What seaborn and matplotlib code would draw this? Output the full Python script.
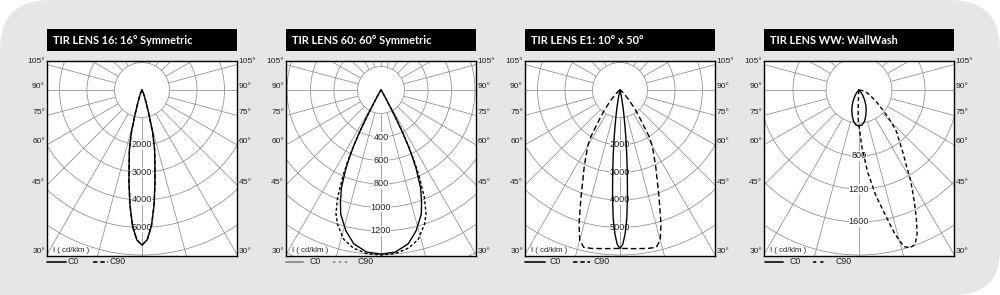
import numpy as np
import pandas as pd
import matplotlib
matplotlib.use("Agg")
import matplotlib.pyplot as plt
import seaborn as sns
from matplotlib.patches import Circle, Rectangle, PathPatch
from matplotlib.path import Path

sns.set_theme(style="white")
plt.rcParams['font.family'] = ['Liberation Sans', 'DejaVu Sans']

# ---------------- data (cd/klm vs gamma angle in degrees) ----------------
titles = ["TIR LENS 16: 16\u00b0 Symmetric", "TIR LENS 60: 60\u00b0 Symmetric",
          "TIR LENS E1: 10\u00b0 x 50\u00b0", "TIR LENS WW: WallWash"]
ring_steps = [1000, 200, 1000, 400]
ring_labels = [[2000, 3000, 4000, 5000], [400, 600, 800, 1000, 1200],
               [2000, 3000, 4000, 5000], [800, 1200, 1600]]
angle_labels = [105, 90, 75, 60, 45, 30]
legend_labels = ["C0", "C90"]
unit_label = "I ( cd/klm )"

p1_gamma = [0, 2, 4, 6, 8, 10, 12, 14, 16, 18, 20, 25, 30, 40, 60, 90]
p1_c0 = [5640, 5450, 4950, 4200, 3400, 2700, 2200, 1600, 900, 500, 300, 100, 30, 10, 0, 0]
p1_c90 = [5640, 5450, 4950, 4200, 3400, 2700, 2200, 1600, 900, 500, 300, 100, 30, 10, 0, 0]

p2_gamma = [0, 5, 10, 14, 18, 20, 22, 24, 25, 26, 27, 28, 29, 30, 35, 45, 90]
p2_c0 = [1396, 1385, 1330, 1235, 1110, 1010, 900, 740, 640, 530, 400, 240, 120, 60, 15, 0, 0]
p2_c90 = [1404, 1398, 1365, 1310, 1200, 1120, 985, 790, 670, 540, 400, 240, 120, 60, 15, 0, 0]

p3_gamma_c0 = [0, 1, 2, 3, 4, 5, 6, 7, 8, 9, 10, 12, 15, 20, 30, 90]
p3_c0 = [5760, 5620, 5250, 4700, 3900, 3050, 2350, 1750, 1250, 880, 600, 250, 80, 20, 5, 0]
p3_gamma_c90 = [0, 5, 10, 13, 15, 17, 20, 25, 30, 32, 35, 38, 42, 50, 60, 90]
p3_c90 = [5760, 5790, 5850, 5870, 5650, 5100, 4150, 3076, 2350, 2000, 1300, 900, 490, 150, 50, 0]

p4_gamma_c0 = [0, 5, 10, 15, 20, 25, 30, 35, 40, 50, 60, 90]
p4_c0 = [436, 425, 385, 320, 255, 190, 130, 80, 45, 15, 5, 0]
p4_gamma_c90 = [0, 3, 6, 9, 12, 14, 16, 18, 20, 22, 24, 26, 28, 30, 32, 35, 38, 42, 45,
                50, 55, 60, 70, 80, 90]
p4_c90 = [436, 700, 1000, 1290, 1560, 1800, 1975, 2010, 1990, 1880, 1710, 1540, 1380,
          1240, 1085, 930, 800, 680, 560, 380, 270, 190, 110, 60, 0]
p4_gamma_c270 = [0, 1, 2, 3, 4, 6, 10, 90]
p4_c270 = [436, 400, 300, 180, 90, 30, 5, 0]

# (right-side gamma, right values, left-side gamma, left values) for each curve
panels = [
    dict(c0=(p1_gamma, p1_c0, p1_gamma, p1_c0), c90=(p1_gamma, p1_c90, p1_gamma, p1_c90)),
    dict(c0=(p2_gamma, p2_c0, p2_gamma, p2_c0), c90=(p2_gamma, p2_c90, p2_gamma, p2_c90)),
    dict(c0=(p3_gamma_c0, p3_c0, p3_gamma_c0, p3_c0),
         c90=(p3_gamma_c90, p3_c90, p3_gamma_c90, p3_c90)),
    dict(c0=(p4_gamma_c0, p4_c0, p4_gamma_c0, p4_c0),
         c90=(p4_gamma_c90, p4_c90, p4_gamma_c270, p4_c270)),
]

# ---------------- layout (pixels) ----------------
W, H = 1000, 295
lefts = [47, 286, 525, 764]
fw, ftop, fbot = 190, 61, 256
cy = 90
ring_px = [27.5, 23.5, 27.5, 33.0]
curve_dash = [(0, (3, 2)), (0, (2.2, 1.6)), (0, (4, 2.2)), (0, (3, 2))]
leg_specs = [
    dict(c=('k', '-'), d=('k', (0, (2.5, 1.5))), x=(47, 66, 67, 93, 108, 110)),
    dict(c=('#8a8a8a', '-'), d=('#8a8a8a', (0, (1.3, 2.0))), x=(286, 303, 310, 333, 350, 357)),
    dict(c=('k', '-'), d=('k', (0, (2.5, 1.5))), x=(525, 545, 549, 573, 590, 593)),
    dict(c=('k', '-'), d=('k', (0, (1.8, 2.2))), x=(765, 783, 789, 813, 827, 836)),
]
grid_col = '#8c8c8c'
txt_col = '#222222'

fig = plt.figure(figsize=(W / 100, H / 100), dpi=100)
fig.patch.set_facecolor('white')

bg = fig.add_axes([0, 0, 1, 1], zorder=0)
bg.set_xlim(0, W)
bg.set_ylim(H, 0)
bg.axis('off')

# rounded grey background
r_tl, r_tr, r_br = 50, 50, 45
verts = [(r_tl, 0), (W - r_tr, 0), (W, 0), (W, r_tr), (W, H - r_br), (W, H), (W - r_br, H),
         (0, H), (0, r_tl), (0, 0), (r_tl, 0)]
codes = [Path.MOVETO, Path.LINETO, Path.CURVE3, Path.CURVE3, Path.LINETO, Path.CURVE3,
         Path.CURVE3, Path.LINETO, Path.LINETO, Path.CURVE3, Path.CURVE3]
bg.add_patch(PathPatch(Path(verts, codes), fc='#e6e6e6', ec='none'))


def polar_xy(g_r, v_r, g_l, v_l):
    gl = np.radians(np.array(g_l, float))[::-1]
    vl = np.array(v_l, float)[::-1]
    gr = np.radians(np.array(g_r, float))
    vr = np.array(v_r, float)
    x = np.concatenate([-vl * np.sin(gl), vr * np.sin(gr)])
    y = np.concatenate([-vl * np.cos(gl), -vr * np.cos(gr)])
    return x, y


for i in range(4):
    L = lefts[i]
    step = ring_steps[i]
    ppu = ring_px[i] / step
    ax = fig.add_axes([L / W, (H - fbot) / H, fw / W, (fbot - ftop) / H], zorder=2)
    ax.set_facecolor('white')
    ax.set_xlim(-95 / ppu, 95 / ppu)
    ax.set_ylim(-(fbot - cy) / ppu, (cy - ftop) / ppu)
    ax.set_xticks([])
    ax.set_yticks([])
    for s in ax.spines.values():
        s.set_visible(True)
        s.set_color('black')
        s.set_linewidth(1.0)
        s.set_zorder(10)

    # grid: rings and radial lines
    nr = 10
    for k in range(2, nr):
        ax.add_patch(Circle((0, 0), k * step, fill=False, ec=grid_col, lw=0.55, zorder=1))
    for a in range(0, 360, 15):
        t = np.radians(a)
        ax.plot([step * np.sin(t), 12 * step * np.sin(t)],
                [-step * np.cos(t), -12 * step * np.cos(t)],
                color=grid_col, lw=0.55, zorder=1)
    ax.add_patch(Circle((0, 0), step, fc='white', ec=grid_col, lw=0.55, zorder=2))

    for v in ring_labels[i]:
        ax.text(0, -v, str(v), ha='center', va='center', fontsize=6.6, color=txt_col,
                zorder=3, bbox=dict(fc='white', ec='none', pad=0.15))

    ax.text(0.03, 0.028, unit_label, transform=ax.transAxes, ha='left', va='center',
            fontsize=5.6, color=txt_col, zorder=3,
            bbox=dict(fc='white', ec='none', pad=0.2))

    # curves
    x0, y0 = polar_xy(*panels[i]['c0'])
    x9, y9 = polar_xy(*panels[i]['c90'])
    sns.lineplot(x=x9, y=y9, sort=False, estimator=None, color='black', lw=1.0,
                 linestyle=curve_dash[i], ax=ax, zorder=4)
    sns.lineplot(x=x0, y=y0, sort=False, estimator=None, color='black', lw=1.0,
                 ax=ax, zorder=5)
    ax.set_xlabel('')
    ax.set_ylabel('')

    # title bar
    bg.add_patch(Rectangle((L, 29), fw, 22, fc='black', ec='none', zorder=1))
    bg.text(L + 6, 40.5, titles[i], color='white', fontsize=7.9, fontweight='bold',
            family=['Lato', 'DejaVu Sans'], ha='left', va='center', zorder=2)

    # angle labels at frame sides
    for g in angle_labels:
        yy = cy + 95 / np.tan(np.radians(g)) - 3
        bg.text(L - 2, yy, f"{g}\u00b0", ha='right', va='center', fontsize=6.1, color=txt_col)
        bg.text(L + fw + 1.5, yy, f"{g}\u00b0", ha='left', va='center', fontsize=6.1,
                color=txt_col)

    # legend
    sp = leg_specs[i]
    xa, xb, xt, xc, xd, xu = sp['x']
    bg.plot([xa, xb], [262, 262], color=sp['c'][0], linestyle=sp['c'][1], lw=1.3)
    bg.text(xt, 261.5, legend_labels[0], ha='left', va='center', fontsize=6.3, color=txt_col)
    bg.plot([xc, xd], [262, 262], color=sp['d'][0], linestyle=sp['d'][1], lw=1.3)
    bg.text(xu, 261.5, legend_labels[1], ha='left', va='center', fontsize=6.3, color=txt_col)

fig.savefig("out.png", dpi=100, facecolor='white')
